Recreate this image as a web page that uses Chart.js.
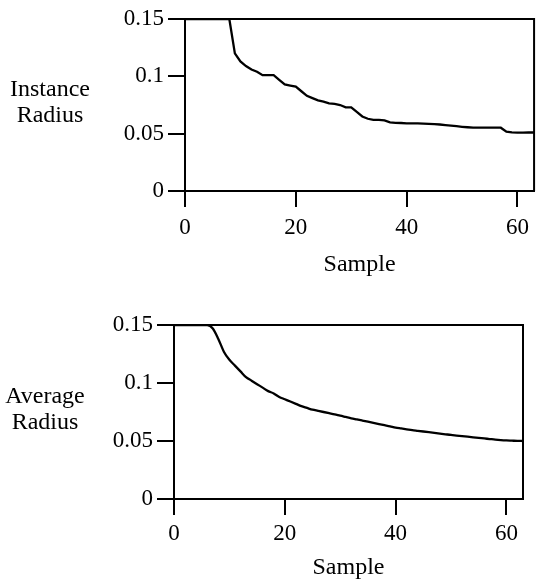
<!DOCTYPE html>
<html>
<head>
<meta charset="utf-8">
<script src="https://cdn.jsdelivr.net/npm/chart.js@4.4.0/dist/chart.umd.min.js"></script>
<style>
  html, body { margin: 0; padding: 0; background: #fff; }
  .panel { position: absolute; left: 0; width: 536px; height: 291px; }
  #topPanel { top: 0; }
  #bottomPanel { top: 291px; }
</style>
</head>
<body>
<div id="topPanel" class="panel"><canvas id="instanceChart" width="536" height="291"></canvas></div>
<div id="bottomPanel" class="panel"><canvas id="averageChart" width="536" height="291"></canvas></div>
<script>
// sample index (x)
const samples = [0, 1, 2, 3, 4, 5, 6, 7, 8, 9, 10, 11, 12, 13, 14, 15, 16, 17, 18, 19,
    20, 21, 22, 23, 24, 25, 26, 27, 28, 29, 30, 31, 32, 33, 34, 35, 36, 37, 38, 39,
    40, 41, 42, 43, 44, 45, 46, 47, 48, 49, 50, 51, 52, 53, 54, 55, 56, 57, 58, 59,
    60, 61, 62, 63];

const instanceRadius = [0.15, 0.15, 0.15, 0.15, 0.15, 0.15, 0.15, 0.15, 0.15, 0.120,
    0.113, 0.109, 0.106, 0.104, 0.101, 0.101, 0.101, 0.097, 0.093, 0.092,
    0.091, 0.087, 0.083, 0.081, 0.079, 0.078, 0.0765, 0.076, 0.075, 0.073,
    0.073, 0.069, 0.065, 0.063, 0.062, 0.062, 0.0615, 0.0598, 0.0595, 0.0593,
    0.059, 0.059, 0.059, 0.0588, 0.0585, 0.0583, 0.058, 0.0575, 0.057, 0.0565,
    0.056, 0.0556, 0.0553, 0.0553, 0.0553, 0.0553, 0.0552, 0.0552, 0.0517, 0.0512,
    0.0509, 0.0509, 0.051, 0.051];

const averageRadius = [0.15, 0.15, 0.15, 0.15, 0.15, 0.15, 0.15, 0.147, 0.138, 0.127,
    0.120, 0.115, 0.110, 0.105, 0.102, 0.099, 0.096, 0.093, 0.091, 0.088,
    0.086, 0.084, 0.082, 0.080, 0.0785, 0.077, 0.076, 0.075, 0.074, 0.073,
    0.0718, 0.0707, 0.0696, 0.0686, 0.0676, 0.0666, 0.0656, 0.0646, 0.0636, 0.0626,
    0.0615, 0.0608, 0.0601, 0.0594, 0.0588, 0.0582, 0.0576, 0.057, 0.0564, 0.0558,
    0.0552, 0.0547, 0.0542, 0.0537, 0.0532, 0.0527, 0.0522, 0.0517, 0.0512, 0.0508,
    0.0505, 0.0503, 0.0501, 0.05];

const xTicks = [0, 20, 40, 60];
const yTicks = [0, 0.05, 0.1, 0.15];
const yTickLabels = ['0', '0.05', '0.1', '0.15'];

const serif = '"Liberation Serif", "Times New Roman", serif';

// box on top/right + horizontal side label
const framePlugin = {
    id: 'frame',
    afterDraw(chart, args, opts) {
        const { ctx, chartArea: a } = chart;
        ctx.save();
        ctx.strokeStyle = '#000';
        ctx.lineWidth = 2;
        ctx.beginPath();
        ctx.moveTo(a.left, a.top);
        ctx.lineTo(a.right, a.top);
        ctx.lineTo(a.right, a.bottom);
        ctx.stroke();
        ctx.fillStyle = '#000';
        ctx.font = '24px ' + serif;
        ctx.textAlign = 'center';
        ctx.textBaseline = 'middle';
        opts.lines.forEach((t, i) => ctx.fillText(t, opts.x, opts.y + i * 26));
        ctx.restore();
    }
};

const makeChart = (id, values, cfg) => {
    const ctx = document.getElementById(id).getContext('2d');
    return new Chart(ctx, {
        type: 'line',
        data: {
            datasets: [{
                data: values.map((v, i) => ({ x: samples[i], y: v })),
                borderColor: '#000',
                borderWidth: 2.3,
                pointRadius: 0,
                fill: false,
                cubicInterpolationMode: cfg.smooth ? 'monotone' : 'default',
                tension: 0
            }]
        },
        options: {
            responsive: false,
            animation: false,
            layout: { padding: { top: cfg.top, right: cfg.right, bottom: 0, left: 0 } },
            plugins: {
                legend: { display: false },
                tooltip: { enabled: false },
                frame: { lines: cfg.label, x: cfg.labelX, y: cfg.labelY }
            },
            scales: {
                x: {
                    type: 'linear',
                    min: 0,
                    max: 63,
                    afterBuildTicks: s => { s.ticks = xTicks.map(v => ({ value: v })); },
                    afterFit: s => { s.height = cfg.xHeight; },
                    grid: { drawOnChartArea: false, tickLength: 16, color: '#000', lineWidth: 2 },
                    border: { color: '#000', width: 2 },
                    ticks: { color: '#000', font: { family: serif, size: 23 }, padding: cfg.xPad, maxRotation: 0 },
                    title: {
                        display: true, text: 'Sample', color: '#000',
                        font: { family: serif, size: 24 },
                        padding: { top: 0, bottom: cfg.titlePad }
                    }
                },
                y: {
                    min: 0,
                    max: 0.15,
                    afterBuildTicks: s => { s.ticks = yTicks.map(v => ({ value: v })); },
                    afterFit: s => { s.width = cfg.yWidth; },
                    grid: { drawOnChartArea: false, tickLength: 17, color: '#000', lineWidth: 2 },
                    border: { color: '#000', width: 2 },
                    ticks: {
                        color: '#000', font: { family: serif, size: 23 }, padding: 4,
                        callback: (v, i) => yTickLabels[i]
                    }
                }
            }
        },
        plugins: [framePlugin]
    });
};

// 위 그래프: instance radius
makeChart('instanceChart', instanceRadius, {
    top: 19, right: 1, yWidth: 185, xHeight: 100, xPad: 7, titlePad: 12,
    label: ['Instance', 'Radius'], labelX: 50, labelY: 90, smooth: false
});

// 아래 그래프: average radius
makeChart('averageChart', averageRadius, {
    top: 34, right: 13, yWidth: 174, xHeight: 83, xPad: 5, titlePad: 0,
    label: ['Average', 'Radius'], labelX: 45, labelY: 106, smooth: true
});
</script>
</body>
</html>
